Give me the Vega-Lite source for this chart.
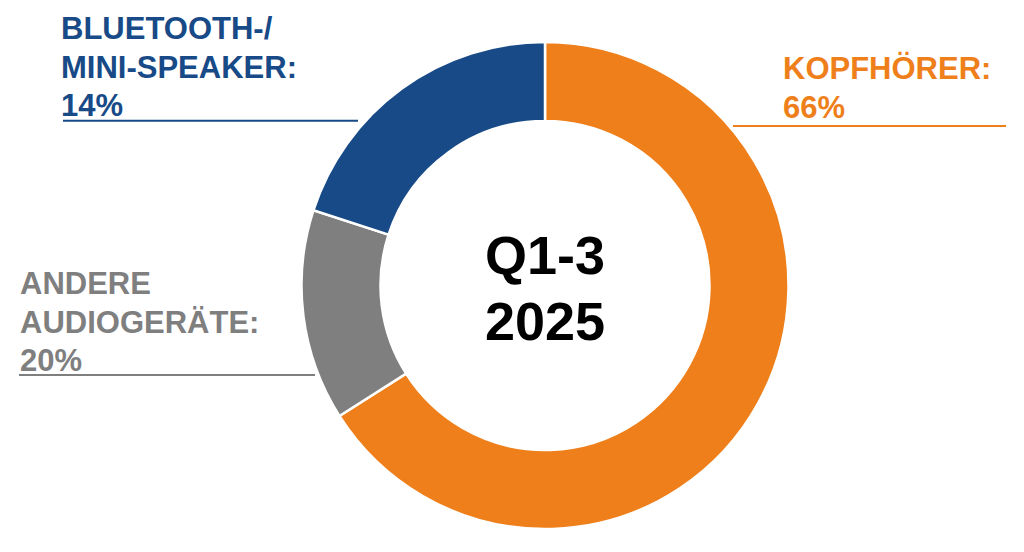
{
  "$schema": "https://vega.github.io/schema/vega-lite/v6.json",
  "width": 1024,
  "height": 552,
  "autosize": {"type": "fit", "contains": "padding"},
  "padding": 0,
  "background": "white",
  "config": {"view": {"stroke": null}},
  "datasets": {
    "shares": [
      {"category": "Kopfhörer", "order": 1, "share": 66, "lines": ["KOPFHÖRER:", "66%"]},
      {"category": "Andere Audiogeräte", "order": 2, "share": 14, "lines": ["ANDERE", "AUDIOGERÄTE:", "20%"]},
      {"category": "Bluetooth-/Mini-Speaker", "order": 3, "share": 20, "lines": ["BLUETOOTH-/", "MINI-SPEAKER:", "14%"]}
    ],
    "center": [{"lines": ["Q1-3", "2025"]}]
  },
  "data": {"name": "shares"},
  "layer": [
    {
      "mark": {"type": "arc", "outerRadius": 243.5, "innerRadius": 164.5, "stroke": "white", "strokeWidth": 2.5},
      "encoding": {
        "x": {"datum": 0, "type": "quantitative", "scale": {"domain": [-545, 479], "nice": false, "zero": false}, "axis": null},
        "y": {"datum": 0, "type": "quantitative", "scale": {"domain": [-266.5, 285.5], "nice": false, "zero": false}, "axis": null},
        "theta": {"field": "share", "type": "quantitative", "stack": true},
        "order": {"field": "order", "type": "ordinal"},
        "color": {
          "field": "category",
          "type": "nominal",
          "scale": {"domain": ["Kopfhörer", "Andere Audiogeräte", "Bluetooth-/Mini-Speaker"], "range": ["#EE7F1A", "#7F7F7F", "#174A87"]},
          "legend": null
        }
      }
    },
    {
      "data": {"name": "center"},
      "mark": {"type": "text", "align": "center", "baseline": "alphabetic", "font": "Liberation Sans", "fontWeight": "bold", "fontSize": 54, "lineHeight": 66, "color": "black"},
      "encoding": {
        "x": {"datum": 0, "type": "quantitative"},
        "y": {"datum": 11.5, "type": "quantitative"},
        "text": {"field": "lines", "type": "nominal"}
      }
    },
    {
      "transform": [{"filter": "datum.order == 1"}],
      "layer": [
        {
          "mark": {"type": "text", "align": "left", "baseline": "alphabetic", "font": "Liberation Sans", "fontWeight": "bold", "fontSize": 31, "lineHeight": 38.5},
          "encoding": {
            "x": {"datum": 238, "type": "quantitative"},
            "y": {"datum": 206.2, "type": "quantitative"},
            "text": {"field": "lines", "type": "nominal"},
            "color": {"field": "category", "type": "nominal", "legend": null}
          }
        },
        {
          "mark": {"type": "rule", "strokeWidth": 2},
          "encoding": {
            "x": {"datum": 188, "type": "quantitative"},
            "x2": {"datum": 461},
            "y": {"datum": 159.5, "type": "quantitative"},
            "color": {"field": "category", "type": "nominal", "legend": null}
          }
        }
      ]
    },
    {
      "transform": [{"filter": "datum.order == 2"}],
      "layer": [
        {
          "mark": {"type": "text", "align": "left", "baseline": "alphabetic", "font": "Liberation Sans", "fontWeight": "bold", "fontSize": 31, "lineHeight": 38.5},
          "encoding": {
            "x": {"datum": -525, "type": "quantitative"},
            "y": {"datum": -8.8, "type": "quantitative"},
            "text": {"field": "lines", "type": "nominal"},
            "color": {"field": "category", "type": "nominal", "legend": null}
          }
        },
        {
          "mark": {"type": "rule", "strokeWidth": 2},
          "encoding": {
            "x": {"datum": -526, "type": "quantitative"},
            "x2": {"datum": -230},
            "y": {"datum": -89.5, "type": "quantitative"},
            "color": {"field": "category", "type": "nominal", "legend": null}
          }
        }
      ]
    },
    {
      "transform": [{"filter": "datum.order == 3"}],
      "layer": [
        {
          "mark": {"type": "text", "align": "left", "baseline": "alphabetic", "font": "Liberation Sans", "fontWeight": "bold", "fontSize": 31, "lineHeight": 38.5},
          "encoding": {
            "x": {"datum": -484, "type": "quantitative"},
            "y": {"datum": 246.5, "type": "quantitative"},
            "text": {"field": "lines", "type": "nominal"},
            "color": {"field": "category", "type": "nominal", "legend": null}
          }
        },
        {
          "mark": {"type": "rule", "strokeWidth": 2},
          "encoding": {
            "x": {"datum": -482, "type": "quantitative"},
            "x2": {"datum": -187},
            "y": {"datum": 164.8, "type": "quantitative"},
            "color": {"field": "category", "type": "nominal", "legend": null}
          }
        }
      ]
    }
  ]
}
